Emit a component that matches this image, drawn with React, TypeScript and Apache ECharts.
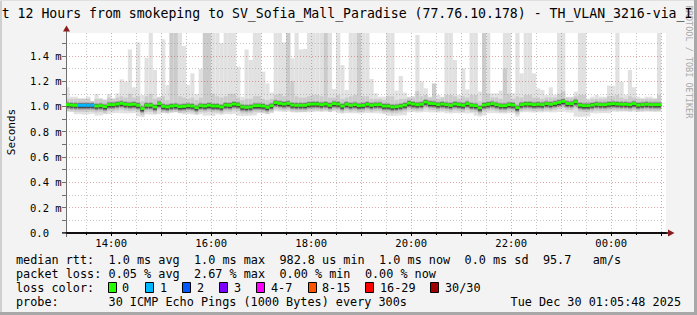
import React, { useEffect, useRef } from "react";
import * as echarts from "echarts";

// ---- time frame (hours since midnight of Dec 29) ----
const START_HOUR = 13 + 5 / 60 + 48 / 3600; // 13:05:48
const END_HOUR = START_HOUR + 12; // 01:05:48
const FIRST_STEP_HOUR = 13 + 5 / 60; // rrd step 13:05
const STEP_HOURS = 5 / 60; // 300 s

// ---- data (ms) ----
const medianRtt = [
  1.014, 1.011, 1.009, 1.009, 1.009, 1.009, 1.009, 1.003, 1.006, 0.998,
  1.014, 1.014, 1.019, 1.024, 1.017, 1.014, 1.017, 1.009, 0.983, 1.009,
  1.009, 0.996, 1.022, 1.001, 0.996, 1.003, 1.006, 0.998, 1.001, 1.006,
  1.003, 0.99, 1.006, 1.003, 1.009, 1.003, 1.003, 0.996, 1.011, 1.009,
  1.019, 1.014, 0.996, 0.993, 0.996, 1.006, 1.006, 1.003, 0.993, 1.006,
  1.03, 1.024, 1.019, 1.024, 1.011, 1.009, 1.009, 1.009, 1.017, 1.019,
  1.019, 1.014, 1.019, 1.009, 1.022, 1.019, 1.003, 1.017, 1.009, 1.014,
  1.006, 1.009, 1.017, 1.009, 1.014, 1.014, 1.003, 1.003, 0.996, 0.998,
  1.003, 1.011, 1.026, 1.019, 1.014, 1.017, 1.035, 1.024, 1.022, 1.014,
  1.019, 1.014, 1.009, 1.019, 1.014, 1.009, 1.022, 1.009, 1.006, 0.988,
  1.011, 1.017, 1.022, 1.014, 1.006, 1.006, 1.014, 1.011, 0.99, 1.014,
  1.019, 1.019, 1.014, 1.017, 1.014, 1.022, 1.017, 1.024, 1.032, 1.04,
  1.024, 1.022, 1.037, 1.011, 1.006, 1.006, 1.011, 1.017, 1.014, 1.014,
  1.019, 1.022, 1.019, 1.017, 1.017, 1.014, 1.022, 1.011, 1.014, 1.017,
  1.014, 1.014, 1.014,
];

const smokeTop = [
  1.151, 1.077, 1.077, 1.064, 1.064, 1.077, 1.043, 1.098, 1.064, 1.056,
  1.098, 1.064, 1.104, 1.214, 1.196, 1.45, 1.151, 1.506, 1.09, 1.385,
  1.6, 1.288, 1.077, 1.53, 1.169, 1.6, 1.6, 1.6, 1.477, 1.169,
  1.261, 1.098, 1.296, 1.6, 1.6, 1.6, 1.6, 1.5, 1.6, 1.6,
  1.6, 1.314, 1.077, 1.45, 1.367, 1.6, 1.6, 1.275, 1.182, 1.109,
  1.6, 1.6, 1.506, 1.6, 1.38, 1.6, 1.45, 1.454, 1.6, 1.6,
  1.6, 1.6, 1.6, 1.6, 1.138, 1.6, 1.327, 1.13, 1.6, 1.6,
  1.6, 1.6, 1.6, 1.217, 1.104, 1.077, 1.077, 1.6, 1.6, 1.125,
  1.24, 1.109, 1.077, 1.082, 1.565, 1.196, 1.143, 1.077, 1.182, 1.09,
  1.077, 1.6, 1.6, 1.367, 1.09, 1.301, 1.135, 1.6, 1.6, 1.117,
  1.6, 1.6, 1.104, 1.104, 1.125, 1.6, 1.6, 1.104, 1.6, 1.261,
  1.6, 1.6, 1.261, 1.143, 1.13, 1.09, 1.151, 1.09, 1.6, 1.6,
  1.077, 1.077, 1.117, 1.6, 1.6, 1.064, 1.077, 1.09, 1.077, 1.077,
  1.164, 1.164, 1.6, 1.196, 1.09, 1.288, 1.151, 1.077, 1.064, 1.077,
  1.077, 1.064, 1.6,
];

const smokeMid = [
  1.06, 1.06, 1.06, 1.06, 1.06, 1.06, 1.05, 1.06, 1.06, 1.05,
  1.07, 1.06, 1.07, 1.08, 1.07, 1.1, 1.07, 1.08, 1.04, 1.08,
  1.1, 1.06, 1.07, 1.08, 1.05, 1.6, 1.6, 1.08, 1.07, 1.06,
  1.07, 1.05, 1.07, 1.6, 1.6, 1.1, 1.08, 1.07, 1.08, 1.1,
  1.1, 1.07, 1.05, 1.06, 1.06, 1.08, 1.08, 1.06, 1.05, 1.06,
  1.09, 1.1, 1.08, 1.6, 1.2, 1.08, 1.07, 1.07, 1.08, 1.09,
  1.09, 1.08, 1.6, 1.07, 1.07, 1.09, 1.06, 1.07, 1.08, 1.09,
  1.6, 1.08, 1.08, 1.06, 1.06, 1.06, 1.05, 1.08, 1.08, 1.05,
  1.06, 1.06, 1.07, 1.07, 1.12, 1.08, 1.09, 1.07, 1.18, 1.06,
  1.07, 1.09, 1.09, 1.08, 1.06, 1.08, 1.07, 1.09, 1.09, 1.04,
  1.6, 1.1, 1.07, 1.07, 1.06, 1.3, 1.1, 1.06, 1.08, 1.07,
  1.09, 1.09, 1.07, 1.07, 1.06, 1.07, 1.07, 1.07, 1.1, 1.12,
  1.07, 1.07, 1.08, 1.09, 1.09, 1.05, 1.06, 1.06, 1.06, 1.06,
  1.08, 1.08, 1.09, 1.07, 1.06, 1.08, 1.07, 1.06, 1.06, 1.06,
  1.06, 1.06, 1.09,
];

const smokeLow = [
  0.959, 0.957, 0.938, 0.94, 0.936, 0.938, 0.941, 0.927, 0.929, 0.938,
  0.94, 0.946, 0.948, 0.946, 0.944, 0.946, 0.947, 0.921, 0.915, 0.938,
  0.936, 0.934, 0.94, 0.953, 0.951, 0.953, 0.955, 0.95, 0.938, 0.94,
  0.937, 0.932, 0.938, 0.927, 0.929, 0.925, 0.938, 0.934, 0.94, 0.938,
  0.942, 0.927, 0.924, 0.925, 0.927, 0.929, 0.946, 0.944, 0.938, 0.946,
  0.962, 0.959, 0.957, 0.959, 0.953, 0.951, 0.953, 0.954, 0.953, 0.955,
  0.959, 0.957, 0.959, 0.955, 0.96, 0.946, 0.944, 0.948, 0.946, 0.946,
  0.944, 0.946, 0.948, 0.946, 0.946, 0.944, 0.94, 0.927, 0.925, 0.927,
  0.929, 0.93, 0.953, 0.955, 0.951, 0.953, 0.957, 0.953, 0.953, 0.951,
  0.953, 0.946, 0.944, 0.948, 0.946, 0.946, 0.944, 0.946, 0.927, 0.92,
  0.927, 0.946, 0.948, 0.946, 0.944, 0.944, 0.946, 0.946, 0.919, 0.953,
  0.955, 0.953, 0.951, 0.953, 0.953, 0.955, 0.953, 0.953, 0.957, 0.959,
  0.953, 0.951, 0.919, 0.917, 0.919, 0.921, 0.946, 0.944, 0.946, 0.948,
  0.946, 0.959, 0.957, 0.959, 0.959, 0.957, 0.959, 0.959, 0.957, 0.959,
  0.959, 0.957, 0.959,
];

const lossPings = [
  0, 0, 0, 1, 1, 1, 1, 0, 0, 0, 0, 0, 0, 0, 0, 0, 0, 0, 0, 0,
  0, 0, 0, 0, 0, 0, 0, 0, 0, 0, 0, 0, 0, 0, 0, 0, 0, 0, 0, 0,
  0, 0, 0, 0, 0, 0, 0, 0, 0, 0, 0, 0, 0, 0, 0, 0, 0, 0, 0, 0,
  0, 0, 0, 0, 0, 0, 0, 0, 0, 0, 0, 0, 0, 0, 0, 0, 0, 0, 0, 0,
  0, 0, 0, 0, 0, 0, 0, 0, 0, 0, 0, 0, 0, 0, 0, 0, 0, 0, 0, 0,
  0, 0, 0, 0, 0, 0, 0, 0, 0, 0, 0, 0, 0, 0, 0, 0, 0, 0, 0, 0,
  0, 0, 0, 0, 0, 0, 0, 0, 0, 0, 0, 0, 0, 0, 0, 0, 0, 0, 0, 0,
  0, 0, 0,
];

// ---- ticks / labels ----
const xHourTicks = [14, 15, 16, 17, 18, 19, 20, 21, 22, 23, 24, 25];
const xHalfHourTicks = [13.5, 14.5, 15.5, 16.5, 17.5, 18.5, 19.5, 20.5, 21.5, 22.5, 23.5, 24.5];
const xLabelHours = [14, 16, 18, 20, 22, 24];
const yMajorTicks = [0, 0.2, 0.4, 0.6, 0.8, 1.0, 1.2, 1.4];
const yMinorTicks = [0.1, 0.3, 0.5, 0.7, 0.9, 1.1, 1.3, 1.5];
const Y_MAX = 1.58;

const titleText = "t 12 Hours from smokeping to SV_Sofia_Mall_Paradise (77.76.10.178) - TH_VLAN_3216-via_I";
const yAxisName = "Seconds";
const watermark = "RRDTOOL / TOBI OETIKER";
const medianLabel = "median rtt:";
const medianStats = ["1.0 ms avg", "1.0 ms max", "982.8 us min", "1.0 ms now", "0.0 ms sd", "95.7", "am/s"];
const lossLabel = "packet loss:";
const lossStats = ["0.05 % avg", "2.67 % max", "0.00 % min", "0.00 % now"];
const lossColorLabel = "loss color:";
const lossLegendLabels = ["0", "1", "2", "3", "4-7", "8-15", "16-29", "30/30"];
const lossLegendColors = ["#26ff00", "#00b8ff", "#0059ff", "#7e00ff", "#ff00ff", "#ff5500", "#ff0000", "#a10000"];
const probeLabel = "probe:";
const probeText = "30 ICMP Echo Pings (1000 Bytes) every 300s";
const dateText = "Tue Dec 30 01:05:48 2025";

// ---- layout ----
const MONO = "'DejaVu Sans Mono', monospace";
const CH = 7.12;
const TX = 16;
const medianCols = [13, 25, 37, 51, 63, 74, 81];
const lossCols = [13, 25, 37, 49];
const legendBoxX = [108, 145, 182, 219, 256, 308, 365, 430];
const legendLabelX = [122, 160, 197, 234, 271, 322, 380, 445];

function lossIndex(p: number) {
  if (p <= 3) return p;
  if (p <= 7) return 4;
  if (p <= 15) return 5;
  if (p <= 29) return 6;
  return 7;
}

function fmtHour(v: number) {
  const h = Math.round(v) % 24;
  return (h < 10 ? "0" : "") + h + ":00";
}

export default function App() {
  const ref = useRef<HTMLDivElement>(null);
  useEffect(() => {
    document.body.style.margin = "0";
    const chart = echarts.init(ref.current!, undefined, { renderer: "svg" });

    const data = medianRtt.map((m, i) => {
      const s = FIRST_STEP_HOUR + i * STEP_HOURS;
      return [s, s + STEP_HOURS, m, smokeLow[i], smokeMid[i], smokeTop[i], lossPings[i]];
    });

    const majorGrid = { color: "rgba(190,60,60,0.45)", type: [1, 2] as any, width: 1 };
    const minorGrid = { color: "rgba(130,130,130,0.45)", type: [1, 2] as any, width: 1 };

    const text = (t: string, x: number, y: number, size: number, extra: any = {}) => ({
      type: "text",
      x,
      y,
      silent: true,
      style: {
        text: t,
        fill: extra.fill || "#000",
        fontFamily: MONO,
        fontSize: size,
        align: extra.align || "left",
        verticalAlign: "middle",
      },
      rotation: extra.rotation || 0,
    });

    const graphics: any[] = [
      // frame
      { type: "rect", shape: { x: 0, y: 0, width: 2, height: 315 }, style: { fill: "#d0d0d0" }, silent: true },
      { type: "rect", shape: { x: 0, y: 0, width: 697, height: 1 }, style: { fill: "#e0e0e0" }, silent: true },
      { type: "rect", shape: { x: 694, y: 0, width: 3, height: 315 }, style: { fill: "#a8a8a8" }, silent: true },
      { type: "rect", shape: { x: 0, y: 312, width: 697, height: 3 }, style: { fill: "#a8a8a8" }, silent: true },
      // watermark
      text(watermark, 688.5, 62, 8.5, { fill: "#a9a9a9", align: "center", rotation: -Math.PI / 2 }),
      // title
      text(titleText, 1.7, 13, 13.2),
      // y axis name
      text(yAxisName, 11, 132, 11, { align: "center", rotation: Math.PI / 2 }),
      // axis extensions and arrows
      { type: "line", shape: { x1: 66.5, y1: 30, x2: 66.5, y2: 237 }, style: { stroke: "#707070", lineWidth: 1 }, silent: true },
      { type: "line", shape: { x1: 62, y1: 233, x2: 669, y2: 233 }, style: { stroke: "#000", lineWidth: 1.5 }, silent: true },
      { type: "polygon", shape: { points: [[63, 31.5], [70, 31.5], [66.5, 25.5]] }, style: { fill: "#8c1c1c" }, silent: true },
      { type: "polygon", shape: { points: [[668, 229.5], [668, 236.5], [674.5, 233]] }, style: { fill: "#8c1c1c" }, silent: true },
      // legend rows
      text(medianLabel, TX, 259.5, 11.8),
      ...medianStats.map((s, i) => text(s, TX + medianCols[i] * CH, 259.5, 11.8)),
      text(lossLabel, TX, 273.5, 11.8),
      ...lossStats.map((s, i) => text(s, TX + lossCols[i] * CH, 273.5, 11.8)),
      text(lossColorLabel, TX, 287.5, 11.8),
      ...lossLegendLabels.map((l, i) => ({
        type: "rect",
        shape: { x: legendBoxX[i] + 0.5, y: 282.5, width: 8, height: 10 },
        style: { fill: lossLegendColors[i], stroke: "#000", lineWidth: 1 },
        silent: true,
      })),
      ...lossLegendLabels.map((l, i) => text(l, legendLabelX[i], 287.5, 11.8)),
      text(probeLabel, TX, 301.5, 11.8),
      text(probeText, TX + 13 * CH, 301.5, 11.8),
      text(dateText, 681, 301.5, 11.8, { align: "right" }),
    ];

    const option: any = {
      animation: false,
      backgroundColor: "#f3f3f3",
      grid: { left: 66, top: 33, width: 600, height: 200, show: true, backgroundColor: "#ffffff", borderWidth: 0 },
      xAxis: [
        {
          type: "value",
          min: START_HOUR,
          max: END_HOUR,
          position: "bottom",
          z: 2,
          axisLine: { show: true, onZero: false, lineStyle: { color: "#000", width: 1.5 } },
          axisTick: { show: true, customValues: xHourTicks, length: 3, lineStyle: { color: "#000" } },
          axisLabel: {
            customValues: xLabelHours,
            formatter: fmtHour,
            fontFamily: MONO,
            fontSize: 10.5,
            color: "#000",
            margin: 4,
          },
          splitLine: { show: true, lineStyle: majorGrid },
        },
        {
          type: "value",
          min: START_HOUR,
          max: END_HOUR,
          position: "bottom",
          z: 2,
          axisLine: { show: false },
          axisTick: { show: true, customValues: xHalfHourTicks, length: 2, lineStyle: { color: "#000" } },
          axisLabel: { show: false },
          splitLine: { show: true, lineStyle: minorGrid },
        },
      ],
      yAxis: [
        {
          type: "value",
          min: 0,
          max: Y_MAX,
          position: "left",
          z: 2,
          axisLine: { show: true, onZero: false, lineStyle: { color: "#707070", width: 1 } },
          axisTick: { show: true, customValues: yMajorTicks, length: 4, lineStyle: { color: "#707070" } },
          axisLabel: {
            customValues: yMajorTicks,
            formatter: (v: number) => (v === 0 ? "0.0" : v.toFixed(1) + " m"),
            align: "left",
            margin: 36,
            fontFamily: MONO,
            fontSize: 10.5,
            color: "#000",
          },
          splitLine: { show: true, lineStyle: majorGrid },
        },
        {
          type: "value",
          min: 0,
          max: Y_MAX,
          position: "left",
          z: 2,
          axisLine: { show: false },
          axisTick: { show: true, customValues: yMinorTicks, length: 4, lineStyle: { color: "#707070" } },
          axisLabel: { show: false },
          splitLine: { show: true, lineStyle: minorGrid },
        },
      ],
      series: [
        {
          type: "custom",
          z: 1,
          clip: true,
          xAxisIndex: 0,
          yAxisIndex: 0,
          encode: { x: [0, 1], y: [2, 3, 4, 5] },
          data,
          renderItem: (params: any, api: any) => {
            const s = api.value(0);
            const e = api.value(1);
            const med = api.value(2);
            const lo = api.value(3);
            const top = api.value(5);
            const mid = Math.min(api.value(4), top);
            const xs = api.coord([s, 0])[0];
            const xe = api.coord([e, 0])[0];
            const Y = (v: number) => api.coord([s, v])[1];
            const ym = Y(med);
            const r = (y1: number, y2: number, fill: string) => ({
              type: "rect",
              shape: { x: xs, y: Math.min(y1, y2), width: xe - xs, height: Math.abs(y2 - y1) },
              style: { fill },
            });
            return {
              type: "group",
              children: [
                r(Y(lo), Y(top), "#e1e1e1"),
                r(ym + 6.5, Y(mid), "#cbcbcb"),
                r(ym + 4.5, ym - 3, "#ababab"),
                r(ym + 3.5, ym - 2, "#7c7c7c"),
                r(ym + 2.5, ym - 1.5, "#3a3a3a"),
              ],
            };
          },
        },
        {
          type: "custom",
          z: 4,
          clip: true,
          xAxisIndex: 0,
          yAxisIndex: 0,
          encode: { x: [0, 1], y: 2 },
          data,
          renderItem: (params: any, api: any) => {
            const s = api.value(0);
            const e = api.value(1);
            const med = api.value(2);
            const xs = api.coord([s, med]);
            const xe = api.coord([e, med]);
            return {
              type: "rect",
              shape: { x: xs[0], y: xs[1] - 1.5, width: xe[0] - xs[0], height: 3 },
              style: { fill: lossLegendColors[lossIndex(api.value(6))] },
            };
          },
        },
      ],
      graphic: graphics,
    };
    chart.setOption(option);
    return () => chart.dispose();
  }, []);
  return <div ref={ref} style={{ width: 697, height: 315 }} />;
}
